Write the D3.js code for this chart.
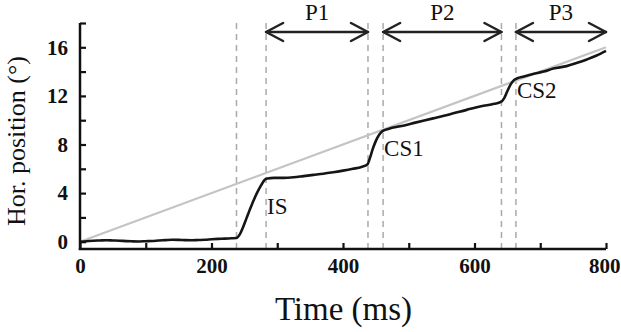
<!DOCTYPE html>
<html><head><meta charset="utf-8">
<script src="https://cdn.jsdelivr.net/npm/d3@7"></script>
<style>body{margin:0;background:#fff}svg{display:block}</style>
</head><body>
<svg id="c" width="621" height="332"></svg>
<script>
const timeMs = [0,10,20,30,40,50,60,70,80,90,100,110,120,130,140,150,160,170,180,190,200,210,220,230,238,243,248,253,258,264,270,276,281,285,295,310,325,340,355,370,385,400,415,428,437,441,445,450,455,460,470,487,510,537,560,588,610,630,640,645,650,655,660,665,675,689,705,720,740,755,771,785,800];
const eyePos = [0,0.04,0.08,0.1,0.12,0.1,0.08,0.05,0.03,0.02,0.04,0.06,0.1,0.13,0.16,0.15,0.13,0.12,0.14,0.16,0.2,0.23,0.25,0.28,0.3,0.6,1.2,1.9,2.6,3.4,4.1,4.7,5.1,5.2,5.25,5.25,5.3,5.4,5.5,5.6,5.72,5.85,6.0,6.15,6.35,6.9,7.6,8.3,8.8,9.1,9.3,9.5,9.8,10.15,10.45,10.85,11.15,11.35,11.5,11.8,12.4,12.95,13.3,13.45,13.6,13.8,14.0,14.25,14.45,14.7,15.0,15.3,15.7];
const targetTime = [0, 800];
const targetPos = [0, 16];
const eventTimes = [238, 283, 438, 461, 641, 663];
const periods = [["P1", 283, 438], ["P2", 461, 641], ["P3", 663, 800]];
const saccadeLabels = [["IS", 283, 214], ["CS1", 461, 156], ["CS2", 663, 98]];
const xTicks = [0,100,200,300,400,500,600,700,800];
const xLabels = [0,200,400,600,800];
const yTicks = [0,2,4,6,8,10,12,14,16,18];
const yLabels = [0,4,8,12,16];

const svg = d3.select("#c");
const x = d3.scaleLinear().domain([0, 800]).range([80, 606]);
const y = d3.scaleLinear().domain([-0.6, 18]).range([249, 23]);
const serif = "'Liberation Serif','Times New Roman',serif";

// dashed event lines
svg.append("g").selectAll("line").data(eventTimes).join("line")
  .attr("x1", d => x(d)).attr("x2", d => x(d))
  .attr("y1", 23).attr("y2", 249)
  .attr("stroke", "#aaa").attr("stroke-width", 1.5)
  .attr("stroke-dasharray", "6,5");

// target line
const tgt = targetTime.map((t, i) => [t, targetPos[i]]);
svg.append("path").datum(tgt)
  .attr("d", d3.line().x(d => x(d[0])).y(d => y(d[1])))
  .attr("fill", "none").attr("stroke", "#c4c4c4").attr("stroke-width", 2.2);

// eye trace
const eye = timeMs.map((t, i) => [t, eyePos[i]]);
svg.append("path").datum(eye)
  .attr("d", d3.line().x(d => x(d[0])).y(d => y(d[1])).curve(d3.curveMonotoneX))
  .attr("fill", "none").attr("stroke", "#151515").attr("stroke-width", 2.6)
  .attr("stroke-linejoin", "round");

// axes
const xAxis = d3.axisBottom(x).tickValues(xTicks).tickSizeInner(-6).tickSizeOuter(0).tickPadding(9)
  .tickFormat(d => xLabels.includes(d) ? d : "");
const gx = svg.append("g").attr("transform", "translate(0,249)").call(xAxis);
const yAxis = d3.axisLeft(y).tickValues(yTicks).tickSizeInner(-6).tickSizeOuter(0).tickPadding(12)
  .tickFormat(d => yLabels.includes(d) ? d : "");
const gy = svg.append("g").attr("transform", "translate(80,0)").call(yAxis);
[gx, gy].forEach(g => {
  g.attr("font-family", serif);
  g.select(".domain").attr("stroke", "#111").attr("stroke-width", 2.5);
  g.selectAll(".tick line").attr("stroke", "#111").attr("stroke-width", 2.2);
  g.selectAll(".tick text").attr("fill", "#111").style("font-family", serif)
   .style("font-size", "21px").style("font-weight", "bold");
});
gx.selectAll(".tick text").filter(d => d === 800).attr("text-anchor", "end").attr("x", 14);
gy.select(".domain").attr("d", "M0,23V250");
gx.select(".domain").attr("d", "M78.8,0H606");

// axis titles
svg.append("text").attr("x", 343.5).attr("y", 320).attr("text-anchor", "middle")
  .style("font-family", serif).style("font-size", "33px").attr("fill", "#111").text("Time (ms)");
svg.append("text").attr("transform", "translate(25,141) rotate(-90)").attr("text-anchor", "middle")
  .style("font-family", serif).style("font-size", "26px").attr("fill", "#111").text("Hor. position (°)");

// period arrows
const ag = svg.append("g").attr("stroke", "#222").attr("stroke-width", 2.5).attr("fill", "none")
  .attr("stroke-linecap", "round").attr("stroke-linejoin", "round");
periods.forEach(([lab, a, b]) => {
  const x1 = x(a), x2 = x(b), yy = 32;
  ag.append("line").attr("x1", x1).attr("x2", x2).attr("y1", yy).attr("y2", yy);
  ag.append("path").attr("d", `M${x1+17},${yy-9}L${x1},${yy}L${x1+17},${yy+9}`);
  ag.append("path").attr("d", `M${x2-17},${yy-9}L${x2},${yy}L${x2-17},${yy+9}`);
  svg.append("text").attr("x", (x1 + x2) / 2).attr("y", 20).attr("text-anchor", "middle")
    .style("font-family", serif).style("font-size", "23px").attr("fill", "#111").text(lab);
});

// saccade labels
saccadeLabels.forEach(([lab, t, by]) => {
  svg.append("text").attr("x", x(t) + 1).attr("y", by)
    .style("font-family", serif).style("font-size", "23px").attr("fill", "#111").text(lab);
});
</script>
</body></html>
